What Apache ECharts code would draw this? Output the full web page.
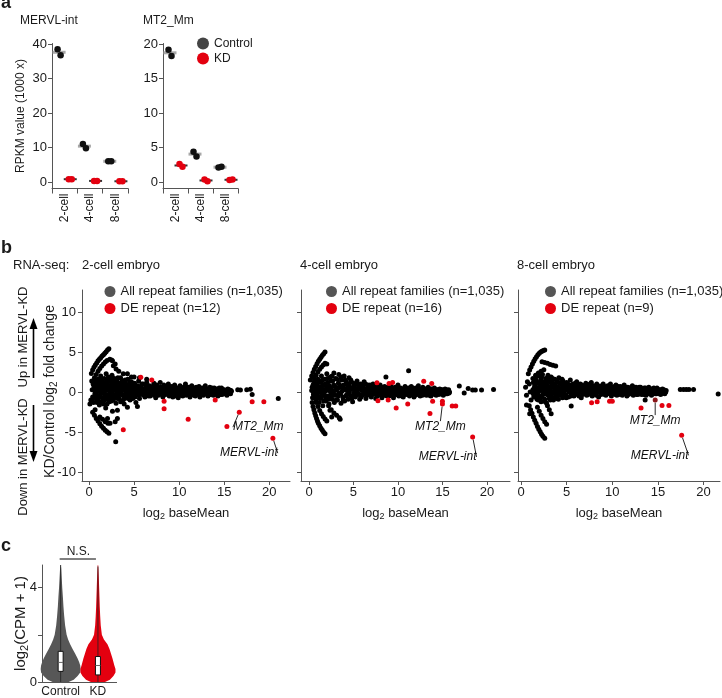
<!DOCTYPE html>
<html><head><meta charset="utf-8">
<script src="https://cdn.jsdelivr.net/npm/echarts@6/dist/echarts.min.js"></script>
<style>html,body{margin:0;padding:0;background:#fff}#c{width:722px;height:698px}</style>
</head><body><div id="c"></div>
<script>
// ================= DATA =================
// ---- panel a : RPKM (1000 x), two replicates per stage
const stageCats = ['2-cell', '4-cell', '8-cell'];
const mervlControl = [[38.5, 36.8], [11.0, 9.8], [6.0, 6.0]];
const mervlKD = [[0.8, 0.8], [0.3, 0.3], [0.2, 0.2]];
const mt2Control = [[19.2, 18.3], [4.4, 3.7], [2.1, 2.2]];
const mt2KD = [[2.6, 2.2], [0.35, 0.1], [0.3, 0.35]];
const mervlTicks = [0, 10, 20, 30, 40];
const mt2Ticks = [0, 5, 10, 15, 20];

// ---- panel b : MA plots [log2 baseMean, log2 fold change]
const maTicksX = [0, 5, 10, 15, 20];
const maTicksY = [-10, -5, 0, 5, 10];

const twoCellAll = [
[0.26,2.33],[0.4,2.75],[0.55,3.1],[0.7,3.4],[0.85,3.65],[1.0,3.9],[1.15,4.1],[1.3,4.3],[1.45,4.5],[1.6,4.65],[1.75,4.85],[1.9,5.05],[2.05,5.25],[2.2,5.4],
[0.8,2.2],[1.0,2.6],[1.2,2.95],[1.4,3.25],[1.6,3.5],[1.8,3.75],[2.0,3.95],[2.3,4.1],[2.6,3.9],[2.9,3.5],[2.5,4.0],[2.7,3.3],[3.0,2.9],[3.3,2.6],[3.8,2.3],[4.26,2.3],[4.7,1.9],[5.0,1.9],[5.6,1.8],[6.4,1.6],
[0.4,-2.5],[0.6,-2.9],[0.8,-3.3],[1.0,-3.6],[1.2,-3.95],[1.4,-4.25],[1.6,-4.5],[1.8,-4.75],[2.0,-4.95],[2.2,-5.15],
[0.2,-1.0],[0.1,-1.5],[0.85,-1.2],[0.67,-2.2],[1.2,-3.1],[1.5,-3.4],[1.8,-3.7],[2.1,-3.9],[1.85,-2.0],[2.05,-3.3],[3.15,-2.25],[3.15,-3.3],[2.9,-3.7],[2.33,-3.9],[2.96,-6.2],[4.26,-1.9],[5.2,-1.3],[5.37,-1.8],[3.9,-1.5],[2.6,-2.4],
[0.3,1.4],[0.35,0.3],[0.4,-0.6],[0.45,1.0],[0.5,-1.3],[0.55,0.7],[0.6,1.8],[0.65,-0.2],[0.7,0.4],[0.75,1.3],[0.8,-0.8],[0.85,0.9],[0.9,0.1],[0.95,-0.4],[1.0,1.6],[1.0,0.6],
[1.05,-1.1],[1.1,0.2],[1.15,1.1],[1.2,-0.5],[1.25,0.7],[1.3,2.0],[1.35,-0.1],[1.4,1.4],[1.45,0.4],[1.5,-0.8],[1.55,0.9],[1.6,-1.5],[1.65,0.1],[1.7,1.7],[1.75,0.6],[1.8,-0.3],[1.85,1.2],[1.9,2.3],[1.95,-0.9],[2.0,0.3],
[2.05,1.0],[2.1,-0.4],[2.15,1.9],[2.2,0.6],[2.25,-1.2],[2.3,0.0],[2.35,1.4],[2.4,-0.7],[2.45,0.9],[2.5,0.3],[2.55,2.1],[2.6,-0.2],[2.65,1.2],[2.7,-1.0],[2.75,0.5],[2.8,1.7],[2.85,-0.5],[2.9,0.2],[2.95,1.0],[3.0,-1.4],
[3.05,0.6],[3.1,1.5],[3.15,-0.3],[3.2,0.1],[3.3,1.1],[3.35,-0.8],[3.4,0.4],[3.5,1.8],[3.55,-0.1],[3.6,0.8],[3.7,-1.1],[3.75,0.3],[3.8,1.3],[3.9,-0.5],[3.95,0.7],
[4.05,0.0],[4.1,1.0],[4.2,-0.7],[4.25,0.5],[4.3,1.6],[4.4,-0.2],[4.5,0.9],[4.55,-1.0],[4.6,0.3],[4.7,1.3],[4.8,-0.4],[4.85,0.6],[4.95,0.0],
[5.05,1.1],[5.1,-0.6],[5.2,0.4],[5.3,-0.1],[5.4,0.8],[5.5,1.4],[5.6,-0.8],[5.7,0.2],[5.8,0.6],[5.9,-0.3],[6.0,1.0],[6.1,0.0],[6.2,-0.6],[6.3,0.5],[6.4,1.2],[6.5,-0.2],[6.6,0.3],[6.7,0.8],[6.8,-0.5],[6.9,0.1],
[7.0,0.6],[7.1,-0.2],[7.2,1.1],[7.3,0.3],[7.4,-0.7],[7.5,0.0],[7.6,0.7],[7.7,-0.4],[7.8,0.4],[7.9,1.2],[8.0,-0.1],[8.1,0.5],[8.2,-0.6],[8.3,0.9],[8.4,0.2],[8.5,-0.3],[8.6,0.6],[8.7,0.0],[8.8,1.0],[8.9,-0.5],
[9.0,0.3],[9.1,-0.1],[9.2,0.7],[9.3,-0.6],[9.4,0.2],[9.5,0.9],[9.6,-0.3],[9.7,0.5],[9.8,0.0],[9.9,-0.7],[10.0,0.4],[10.1,0.8],[10.2,-0.2],[10.3,0.2],[10.4,-0.5],[10.5,0.6],[10.6,0.0],[10.7,1.0],[10.8,-0.4],[10.9,0.3],
[11.0,-0.1],[11.1,0.6],[11.2,-0.6],[11.3,0.2],[11.4,0.8],[11.5,-0.3],[11.6,0.4],[11.7,0.0],[11.8,-0.5],[11.9,0.6],[12.0,0.2],[12.1,-0.2],[12.2,0.7],[12.3,-0.6],[12.4,0.3],[12.5,0.0],[12.6,0.5],[12.7,-0.4],[12.8,0.2],[12.9,0.8],
[13.0,-0.1],[13.1,0.4],[13.2,-0.5],[13.3,0.1],[13.4,0.6],[13.5,-0.3],[13.6,0.3],[13.7,0.0],[13.8,-0.4],[13.9,0.5],[14.0,0.1],[14.1,-0.2],[14.2,0.4],[14.3,-0.5],[14.4,0.0],[14.5,0.3],[14.6,-0.3],[14.7,0.5],[14.8,0.1],[14.9,-0.2],
[15.0,0.3],[15.1,-0.1],[15.2,0.2],[15.3,-0.4],[15.4,0.4],[15.5,0.0],[15.6,0.2],[15.7,-0.2],[15.8,0.1],
[16.5,0.3],[16.8,0.25],[17.5,0.3],[17.9,0.35],[18.1,-0.3],[21.0,-0.8],
[0.35,-1.0],[0.5,0.3],[0.55,1.4],[0.65,0.9],[0.75,-0.4],[0.8,0.2],[0.9,-1.3],[0.95,1.2],[1.1,-0.6],[1.15,-1.6],[1.25,1.7],[1.4,-1.2],[1.45,0.0],[1.6,1.2],[1.7,-1.0],[1.75,0.3],[1.85,-0.5],[2.0,-1.5],[2.0,1.3],[2.15,-0.8],[2.3,1.7],[2.35,-0.3],[2.5,-1.1],[2.6,1.6],[2.75,-0.7],[2.9,1.4],[3.05,-0.2],[3.2,1.8],[3.3,-0.4],[3.5,-1.2],[3.65,1.4],[3.85,-0.9],[4.0,1.5],[4.35,-0.8],[4.5,1.3],[4.7,-0.2],[4.85,-0.8],
[1.05,0.4],[1.2,1.5],[1.35,0.9],[1.5,0.1],[1.65,-0.6],[1.8,0.8],[1.95,0.2],[2.1,1.5],[2.25,0.4],[2.4,-0.1],[2.55,0.7],[2.7,1.0],[2.85,0.3],[3.0,0.8],[3.15,-0.8],[3.25,0.5],[3.45,0.9],[3.6,0.2],[3.75,-0.4],[3.9,1.0],[4.0,0.4],[4.15,-0.2],[4.3,0.7],[4.45,0.2],[4.6,-0.6],[4.75,0.6],[4.9,1.0],
[5.0,0.2],[5.15,0.6],[5.25,-0.3],[5.35,0.3],[5.5,-0.4],[5.6,0.6],[5.75,-0.2],[5.85,1.0],[6.0,0.4],[6.1,-0.4],[6.25,0.2],[6.35,0.8],[6.5,0.5],[6.6,-0.5],[6.75,0.2],[6.85,0.5],[6.95,-0.2],
[7.05,0.3],[7.15,0.8],[7.25,-0.4],[7.4,0.4],[7.5,0.9],[7.6,-0.2],[7.7,0.3],[7.85,-0.1],[7.95,0.6],[8.05,0.2],[8.15,-0.4],[8.25,0.3],[8.35,-0.2],[8.5,0.4],[8.6,-0.1],[8.75,0.5],[8.85,0.2],[8.95,0.7],
[9.05,-0.3],[9.15,0.4],[9.25,0.1],[9.35,-0.2],[9.45,0.6],[9.55,0.2],[9.65,-0.5],[9.75,0.2],[9.85,0.5],[9.95,-0.2],[10.05,0.1],[10.15,-0.4],[10.25,0.5],[10.35,-0.1],[10.45,0.3],[10.55,-0.2],[10.65,0.4],[10.75,0.1],[10.85,-0.1],[10.95,0.6],
[11.05,0.3],[11.15,-0.3],[11.25,0.1],[11.35,0.5],[11.45,-0.1],[11.55,0.2],[11.65,-0.4],[11.75,0.5],[11.85,0.1],[11.95,-0.3],[12.05,0.4],[12.15,0.1],[12.25,-0.3],[12.35,0.5],[12.45,-0.2],[12.55,0.2],[12.65,0.0],[12.75,0.4],[12.85,-0.2],[12.95,0.3],
[13.05,0.2],[13.15,-0.2],[13.25,0.4],[13.35,-0.3],[13.45,0.2],[13.55,0.0],[13.65,0.5],[13.75,-0.2],[13.85,0.1],[13.95,-0.3],[14.05,0.3],[14.15,0.0],[14.25,-0.2],[14.35,0.2],[14.45,0.5],[14.55,-0.1],[14.65,0.1],[14.75,-0.3],[14.85,0.3],[14.95,0.0],
[15.05,-0.2],[15.15,0.2],[15.25,0.0],[15.35,0.2],[15.45,-0.2],[15.55,0.3],[15.65,0.0],[15.75,0.2]
];
const twoCellDE = [[5.74,1.84],[6.96,1.5],[8.33,-1.13],[8.33,-2.08],[11.0,-3.4],[14.0,-1.0],[18.1,-1.2],[19.4,-1.2],[15.3,-4.3],[3.8,-4.7]];
const twoCellNamed = [['MT2_Mm', 16.67, -2.5], ['MERVL-int', 20.4, -5.75]];

const fourCellAll = [
[0.15,1.5],[0.3,2.0],[0.45,2.45],[0.6,2.85],[0.75,3.2],[0.9,3.55],[1.05,3.85],[1.2,4.1],[1.35,4.35],[1.5,4.6],[1.65,4.8],[1.8,5.0],
[0.6,1.7],[0.8,2.1],[1.0,2.5],[1.2,2.85],[1.4,3.15],[1.6,3.4],[1.8,3.6],[2.0,3.5],
[0.35,-1.3],[0.45,-1.8],[0.55,-2.2],[0.65,-2.6],[0.75,-2.95],[0.85,-3.3],[0.95,-3.6],[1.05,-3.9],[1.2,-4.2],[1.35,-4.5],[1.5,-4.75],[1.65,-5.0],[1.8,-5.2],
[0.8,-1.3],[1.0,-1.8],[1.2,-2.3],[1.4,-2.7],[1.6,-3.05],[1.8,-3.35],[2.0,-3.6],
[2.2,-1.7],[2.5,-2.2],[2.8,-2.6],[3.1,-2.9],[3.4,-3.2],[2.55,-3.1],[3.5,-3.4],[2.36,-2.25],
[0.3,0.2],[0.4,-0.7],[0.45,0.9],[0.5,0.0],[0.6,1.3],[0.65,-0.4],[0.7,0.5],[0.8,-0.9],[0.85,1.0],[0.9,0.1],[1.0,-0.5],[1.0,1.6],
[1.1,0.6],[1.15,-1.3],[1.2,0.0],[1.3,1.2],[1.35,-0.7],[1.4,2.0],[1.5,0.4],[1.55,-1.7],[1.6,0.9],[1.7,-0.3],[1.75,1.6],[1.8,0.1],[1.9,-1.1],[1.95,0.7],[2.0,2.3],
[2.05,-0.5],[2.1,1.2],[2.2,0.2],[2.25,-1.5],[2.3,0.8],[2.4,1.9],[2.45,-0.2],[2.5,0.5],[2.6,-0.9],[2.65,1.4],[2.7,0.0],[2.8,2.4],[2.85,-1.3],[2.9,0.7],[3.0,-0.4],[3.0,1.7],
[3.1,0.3],[3.2,-1.0],[3.3,1.1],[3.35,2.2],[3.4,-0.1],[3.5,0.6],[3.6,-1.4],[3.65,1.5],[3.7,0.1],[3.8,-0.6],[3.9,0.9],[3.95,2.0],[4.0,-1.1],[4.1,0.4],[4.2,1.3],[4.25,-0.3],[4.35,0.8],[4.4,-0.9],[4.5,1.8],[4.55,0.0],[4.65,0.6],[4.75,-0.5],[4.85,1.2],[4.9,-1.2],
[5.0,0.3],[5.1,0.9],[5.2,-0.6],[5.3,0.1],[5.4,1.4],[5.5,-0.2],[5.6,0.6],[5.7,-0.9],[5.8,1.0],[5.9,0.2],[6.0,-0.4],[6.1,0.7],[6.2,1.3],[6.3,-0.1],[6.4,-0.8],[6.5,0.4],[6.6,0.9],[6.7,-0.3],[6.8,0.1],[6.9,0.6],
[7.0,-0.6],[7.1,0.3],[7.2,1.0],[7.3,-0.2],[7.4,0.5],[7.5,-0.8],[7.6,0.0],[7.7,0.7],[7.8,-0.4],[7.9,0.3],[8.0,0.9],[8.1,-0.1],[8.2,-0.7],[8.3,0.4],[8.4,0.0],[8.5,0.7],[8.6,-0.4],[8.7,0.2],[8.8,-0.1],[8.9,0.6],
[9.0,-0.5],[9.1,0.1],[9.2,0.8],[9.3,-0.2],[9.4,0.4],[9.5,-0.7],[9.6,0.0],[9.7,0.6],[9.8,-0.3],[9.9,0.2],[10.0,0.9],[10.1,-0.5],[10.2,0.1],[10.3,0.5],[10.4,-0.2],[10.5,0.3],[10.6,-0.6],[10.7,0.0],[10.8,0.7],[10.9,-0.3],
[11.0,0.2],[11.1,-0.1],[11.2,0.5],[11.3,-0.5],[11.4,0.1],[11.5,0.7],[11.6,-0.2],[11.7,0.3],[11.8,-0.6],[11.9,0.0],[12.0,0.5],[12.1,-0.3],[12.2,0.2],[12.3,0.8],[12.4,-0.1],[12.5,-0.5],[12.6,0.3],[12.7,0.0],[12.8,0.6],[12.9,-0.3],
[13.0,0.1],[13.1,0.4],[13.2,-0.4],[13.3,0.0],[13.4,0.6],[13.5,-0.2],[13.6,0.2],[13.7,-0.5],[13.8,0.4],[13.9,0.0],[14.0,-0.2],[14.1,0.5],[14.2,0.1],[14.3,-0.4],[14.4,0.3],[14.5,0.0],[14.6,-0.3],[14.7,0.4],[14.8,0.1],[14.9,-0.2],
[15.0,0.3],[15.1,-0.4],[15.2,0.0],[15.3,0.4],[15.4,-0.2],[15.5,0.2],[15.6,-0.1],[15.7,0.3],[15.8,0.0],
[11.2,2.67],[8.65,1.9],[16.9,0.75],[17.45,-0.1],[17.9,0.45],[18.4,0.25],[18.7,0.25],[19.4,0.25],[20.75,0.33],
[0.35,0.6],[0.5,-0.3],[0.55,1.1],[0.7,-0.8],[0.75,0.9],[0.9,-0.4],[0.95,0.4],[1.05,1.2],[1.15,0.3],[1.25,-0.8],[1.3,0.6],[1.45,-0.3],[1.5,1.5],[1.6,0.1],[1.65,-1.1],[1.8,1.0],[1.85,-0.6],[1.95,0.4],[2.05,1.7],[2.15,-0.9],[2.25,0.6],[2.35,-0.5],[2.45,1.4],[2.55,0.1],[2.6,2.0],[2.75,-0.4],[2.8,0.9],[2.95,0.2],[3.05,-1.0],[3.15,1.6],[3.25,0.5],[3.3,-0.5],[3.45,0.9],[3.55,-0.2],[3.6,1.9],[3.75,0.6],[3.85,-1.0],[3.95,0.3],[4.05,1.5],[4.15,-0.5],[4.3,0.2],[4.45,1.0],[4.5,-0.3],[4.6,0.4],[4.7,1.5],[4.8,-0.8],[4.95,0.5],
[5.05,-0.2],[5.15,0.5],[5.25,1.1],[5.35,-0.4],[5.45,0.3],[5.55,0.9],[5.65,-0.3],[5.75,0.4],[5.85,-0.6],[5.95,0.6],[6.05,0.2],[6.15,-0.3],[6.25,0.4],[6.35,1.0],[6.45,0.1],[6.55,-0.4],[6.65,0.5],[6.75,-0.1],[6.85,0.9],[6.95,0.2],
[7.05,0.5],[7.15,-0.3],[7.25,0.2],[7.35,0.7],[7.45,-0.2],[7.55,0.4],[7.65,-0.5],[7.75,0.2],[7.85,0.6],[7.95,-0.3],[8.05,0.2],[8.15,0.6],[8.25,0.0],[8.35,-0.4],[8.45,0.4],[8.55,-0.1],[8.65,0.5],[8.75,-0.5],[8.85,0.2],[8.95,0.0],
[9.05,0.4],[9.15,-0.3],[9.25,0.3],[9.35,0.0],[9.45,-0.4],[9.55,0.5],[9.65,-0.2],[9.75,0.2],[9.85,0.5],[9.95,-0.3],[10.05,0.2],[10.15,0.5],[10.25,-0.3],[10.35,0.1],[10.45,-0.5],[10.55,0.4],[10.65,0.2],[10.75,-0.2],[10.85,0.3],[10.95,-0.1],
[11.05,0.4],[11.15,-0.3],[11.25,0.1],[11.35,0.3],[11.45,-0.3],[11.55,0.2],[11.65,0.5],[11.75,-0.1],[11.85,0.2],[11.95,-0.4],[12.05,0.1],[12.15,0.4],[12.25,-0.2],[12.35,0.2],[12.45,0.4],[12.55,-0.2],[12.65,0.1],[12.75,-0.4],[12.85,0.2],[12.95,0.0],
[13.05,-0.2],[13.15,0.2],[13.25,0.4],[13.35,-0.2],[13.45,0.1],[13.55,-0.4],[13.65,0.4],[13.75,0.1],[13.85,-0.2],[13.95,0.3],[14.05,0.1],[14.15,-0.3],[14.25,0.3],[14.35,0.0],[14.45,-0.2],[14.55,0.3],[14.65,0.0],[14.75,-0.2],[14.85,0.3],[14.95,0.1],
[15.05,-0.2],[15.15,0.2],[15.25,-0.1],[15.35,0.1],[15.45,0.3],[15.55,-0.2],[15.65,0.1],[15.75,-0.1]
];
const fourCellDE = [[7.64,1.17],[9.0,1.08],[9.4,1.2],[12.9,1.37],[13.8,1.08],[7.75,-1.08],[8.9,-1.0],[9.8,-2.0],[11.1,-1.5],[13.6,-2.67],[13.9,-1.13],[15.0,-1.13],[16.1,-1.75],[16.5,-1.75]];
const fourCellNamed = [['MT2_Mm', 15.0, -1.5], ['MERVL-int', 18.4, -5.6]];

const eightCellAll = [
[0.8,2.3],[0.95,2.75],[1.1,3.15],[1.25,3.5],[1.4,3.85],[1.55,4.15],[1.7,4.4],[1.85,4.65],[2.0,4.85],[2.15,5.0],[2.3,5.1],[2.45,5.2],[2.6,5.25],
[2.3,3.8],[2.6,3.7],[2.9,3.6],[3.2,3.45],[3.5,3.35],[3.8,3.25],
[1.3,1.7],[1.6,2.1],[1.9,2.4],[2.2,2.6],[2.5,2.8],
[0.9,-1.7],[1.05,-2.2],[1.2,-2.65],[1.35,-3.1],[1.5,-3.5],[1.65,-3.9],[1.8,-4.3],[1.95,-4.65],[2.1,-4.95],[2.25,-5.25],[2.4,-5.5],[2.6,-5.75],
[1.8,-1.9],[2.0,-2.4],[2.2,-2.9],[2.4,-3.3],[2.6,-3.7],[2.8,-4.0],
[2.9,-1.7],[3.1,-2.2],[3.3,-2.7],
[0.5,0.6],[0.6,-0.4],[0.7,1.3],[0.6,-1.6],[0.95,-2.7],[1.0,0.0],[1.1,-1.0],[0.9,1.0],
[1.3,0.3],[1.35,1.2],[1.4,-0.6],[1.5,0.8],[1.55,-0.1],[1.6,1.6],[1.7,0.4],[1.75,-0.9],[1.8,1.1],[1.9,0.0],[1.95,2.0],
[2.0,-0.5],[2.1,0.7],[2.15,1.5],[2.2,-1.2],[2.3,0.2],[2.35,2.2],[2.4,-0.3],[2.5,1.0],[2.55,0.5],[2.6,-0.9],[2.7,1.7],[2.75,0.0],[2.8,-1.4],[2.9,0.8],[2.95,2.1],[3.0,-0.4],[3.1,1.3],[3.15,0.3],[3.2,-1.0],[3.3,1.9],[3.35,0.6],[3.4,-0.2],
[3.5,1.1],[3.6,-0.7],[3.65,0.2],[3.7,1.6],[3.8,0.7],[3.85,-0.4],[3.9,1.2],[4.0,0.0],[4.1,-0.9],[4.15,1.8],[4.2,0.5],[4.3,-0.2],[4.4,1.0],[4.5,0.3],[4.55,-0.7],[4.6,1.4],[4.7,0.0],[4.8,0.8],[4.9,-0.4],
[5.0,1.2],[5.1,0.2],[5.2,-0.6],[5.3,0.7],[5.4,1.5],[5.5,-0.2],[5.6,0.4],[5.7,1.0],[5.8,-0.5],[5.9,0.1],[6.0,0.8],[6.1,1.3],[6.2,-0.3],[6.3,0.5],[6.4,0.0],[6.5,1.0],[6.6,-0.7],[6.7,0.3],[6.8,0.8],[6.9,-0.1],
[7.0,0.5],[7.1,1.1],[7.2,-0.4],[7.3,0.2],[7.4,0.8],[7.5,-0.1],[7.6,0.5],[7.7,1.2],[7.8,-0.5],[7.9,0.1],[8.0,0.7],[8.1,0.3],[8.2,-0.2],[8.3,1.0],[8.4,0.4],[8.5,-0.6],[8.6,0.1],[8.7,0.7],[8.8,-0.2],[8.9,0.4],
[9.0,1.0],[9.1,0.0],[9.2,0.5],[9.3,-0.4],[9.4,0.2],[9.5,0.8],[9.6,-0.1],[9.7,0.4],[9.8,1.0],[9.9,-0.5],[10.0,0.2],[10.1,0.6],[10.2,-0.2],[10.3,0.3],[10.4,0.9],[10.5,-0.4],[10.6,0.1],[10.7,0.5],[10.8,-0.1],[10.9,0.7],
[11.0,0.2],[11.1,-0.4],[11.2,0.4],[11.3,0.9],[11.4,-0.1],[11.5,0.3],[11.6,-0.5],[11.7,0.6],[11.8,0.1],[11.9,-0.2],[12.0,0.5],[12.1,0.0],[12.2,0.8],[12.3,-0.4],[12.4,0.3],[12.5,-0.1],[12.6,0.6],[12.7,0.1],[12.8,-0.3],[12.9,0.4],
[13.0,0.0],[13.1,0.6],[13.2,-0.3],[13.3,0.2],[13.4,-0.1],[13.5,0.5],[13.6,0.1],[13.7,-0.4],[13.8,0.3],[13.9,0.0],[14.0,0.6],[14.1,-0.2],[14.2,0.2],[14.3,-0.4],[14.4,0.4],[14.5,0.0],[14.6,0.3],[14.7,-0.2],[14.8,0.1],[14.9,0.5],
[15.0,-0.1],[15.1,0.3],[15.2,0.0],[15.3,-0.3],[15.4,0.2],[15.5,0.4],[15.6,-0.1],[15.7,0.1],[15.8,0.0],[15.9,0.2],
[13.6,-1.0],[5.5,-1.75],[17.45,0.33],[17.8,0.33],[18.1,0.33],[18.4,0.33],[18.9,0.33],[21.6,-0.25],
[1.35,-0.2],[1.45,0.5],[1.5,1.4],[1.6,-0.5],[1.65,0.6],[1.7,1.3],[1.8,-0.2],[1.85,0.5],[1.9,-1.0],[2.0,1.2],[2.05,0.2],[2.1,-0.9],[2.2,0.9],[2.25,1.9],[2.3,-0.6],[2.4,0.5],[2.45,1.3],[2.5,-0.1],[2.6,0.7],[2.65,-1.2],[2.7,0.3],[2.8,1.3],[2.85,-0.3],[2.9,0.5],[3.0,1.6],[3.05,0.0],[3.1,-0.8],[3.2,0.7],[3.25,1.4],[3.3,-0.5],[3.4,0.9],[3.45,1.7],[3.5,0.0],[3.55,-1.0],[3.6,0.6],[3.7,0.0],[3.75,1.0],[3.85,0.2],[3.9,-0.8],[4.0,1.4],[4.05,0.6],[4.2,-0.4],[4.25,1.1],[4.35,0.3],[4.45,-0.3],[4.5,1.6],[4.6,0.6],[4.65,-0.2],[4.75,1.1],[4.85,0.3],[4.95,-0.7],
[5.05,0.5],[5.15,1.0],[5.25,0.0],[5.35,0.4],[5.45,-0.5],[5.55,0.9],[5.65,0.2],[5.75,-0.3],[5.85,0.6],[5.95,1.1],[6.05,-0.2],[6.15,0.4],[6.25,0.9],[6.35,-0.5],[6.45,0.6],[6.55,0.2],[6.65,0.9],[6.75,-0.3],[6.85,0.4],[6.95,0.0],
[7.05,-0.2],[7.15,0.4],[7.25,0.8],[7.35,-0.3],[7.45,0.3],[7.55,1.0],[7.65,0.0],[7.75,0.5],[7.85,-0.2],[7.95,0.8],[8.05,0.0],[8.15,0.5],[8.25,-0.4],[8.35,0.3],[8.45,0.8],[8.55,0.0],[8.65,0.4],[8.75,-0.3],[8.85,0.8],[8.95,0.1],
[9.05,0.5],[9.15,-0.3],[9.25,0.2],[9.35,0.7],[9.45,-0.2],[9.55,0.3],[9.65,0.6],[9.75,-0.2],[9.85,0.3],[9.95,0.6],[10.05,-0.1],[10.15,0.3],[10.25,0.7],[10.35,-0.3],[10.45,0.4],[10.55,0.0],[10.65,0.7],[10.75,-0.3],[10.85,0.3],[10.95,0.0],
[11.05,0.5],[11.15,0.1],[11.25,-0.2],[11.35,0.4],[11.45,0.6],[11.55,-0.1],[11.65,0.2],[11.75,-0.3],[11.85,0.5],[11.95,0.2],[12.05,-0.2],[12.15,0.5],[12.25,0.1],[12.35,0.6],[12.45,-0.2],[12.55,0.2],[12.65,-0.3],[12.75,0.4],[12.85,0.1],[12.95,0.6],
[13.05,0.3],[13.15,-0.1],[13.25,0.4],[13.35,0.0],[13.45,-0.3],[13.55,0.3],[13.65,0.5],[13.75,0.0],[13.85,-0.2],[13.95,0.4],[14.05,0.2],[14.15,-0.2],[14.25,0.4],[14.35,0.1],[14.45,-0.2],[14.55,0.5],[14.65,0.0],[14.75,0.2],[14.85,-0.2],[14.95,0.3],
[15.05,0.1],[15.15,-0.2],[15.25,0.3],[15.35,0.0],[15.45,-0.1],[15.55,0.2],[15.65,0.3],[15.75,-0.2],[15.85,0.0]
];
const eightCellDE = [[7.73,-1.33],[8.34,-1.2],[9.7,-1.13],[10.0,-1.13],[13.15,-2.0],[15.45,-1.67],[16.2,-1.67]];
const eightCellNamed = [['MT2_Mm', 14.7, -1.0], ['MERVL-int', 17.6, -5.4]];

// ---- panel c : violin of log2(CPM + 1)
const violinGroups = ['Control', 'KD'];
const violinLevels = [0, 0.1, 0.25, 0.4, 0.55, 0.7, 0.85, 1.0, 1.2, 1.4, 1.6, 1.8, 2.0, 2.4, 2.8, 3.2, 3.6, 4.0, 4.4, 4.8, 4.96];
const controlDensity = [0.43, 0.70, 0.91, 1.05, 1.07, 1.05, 0.99, 0.91, 0.78, 0.64, 0.51, 0.40, 0.32, 0.24, 0.19, 0.15, 0.12, 0.086, 0.059, 0.032, 0.011];
const kdDensity = [0.38, 0.64, 0.83, 0.94, 0.94, 0.88, 0.83, 0.78, 0.70, 0.62, 0.51, 0.32, 0.21, 0.15, 0.12, 0.097, 0.08, 0.064, 0.048, 0.027, 0.011];
const boxStats = [[0, 0.45, 0.83, 1.3, 4.96], [0, 0.3, 0.7, 1.08, 4.9]];
const violinTicks = [0, 2, 4];
const violinLabels = [0, 4];

// ================= CHART =================
const FONT = '"Liberation Sans", Arial, sans-serif';
const RED = '#e3000f';
const INK = '#1a1a1a';
const AXIS = '#555';
const chart = echarts.init(document.getElementById('c'));

const subRich = (size) => ({
  a: { fontSize: size, fontFamily: FONT, color: INK, lineHeight: size + 3 },
  s: { fontSize: size - 4, fontFamily: FONT, color: INK, lineHeight: size - 3, verticalAlign: 'bottom' }
});

const grids = [
  { left: 52, top: 43.5, width: 76, height: 145 },
  { left: 163, top: 43.5, width: 75, height: 145 },
  { left: 82, top: 290, width: 208, height: 191 },
  { left: 301, top: 290, width: 209, height: 191 },
  { left: 518, top: 290, width: 202, height: 191 },
  { left: 42, top: 565, width: 74.6, height: 119 }
];

function axisBase(gi) {
  return {
    gridIndex: gi, splitLine: { show: false },
    axisLine: { show: true, onZero: false, lineStyle: { color: AXIS, width: 1 } },
    axisTick: { show: true, length: 4, lineStyle: { color: AXIS } },
    axisLabel: { color: INK, fontFamily: FONT, fontSize: 13 }
  };
}

// panel a helpers
const repOffset = [-0.06, 0.06];
function dots(reps, shift) {
  const out = [];
  reps.forEach((r, i) => r.forEach((v, k) => out.push([i + 0.5 + shift + repOffset[k], v])));
  return out;
}
function means(reps, shift) {
  return reps.map((r, i) => [i + 0.5 + shift, r.reduce((a, b) => a + b, 0) / r.length]);
}
function panelASeries(gi, ctrl, kd) {
  return [
    { type: 'scatter', name: 'Control', xAxisIndex: gi, yAxisIndex: gi, symbol: 'rect', symbolSize: [13, 3], itemStyle: { color: '#a8a8a8', opacity: 1 }, data: means(ctrl, -0.22), z: 2, silent: true },
    { type: 'scatter', name: 'KD', xAxisIndex: gi, yAxisIndex: gi, symbol: 'rect', symbolSize: [13, 2], itemStyle: { color: '#333', opacity: 1 }, data: means(kd, 0.22), z: 2, silent: true },
    { type: 'scatter', name: 'Control', xAxisIndex: gi, yAxisIndex: gi, symbolSize: 6.5, itemStyle: { color: '#111', opacity: 1 }, data: dots(ctrl, -0.22), z: 3 },
    { type: 'scatter', name: 'KD', xAxisIndex: gi, yAxisIndex: gi, symbolSize: 6.5, itemStyle: { color: RED, opacity: 1 }, data: dots(kd, 0.22), z: 3 }
  ];
}

// panel b helpers
const ALLNAME = 'All repeat families (n=1,035)';
function panelBSeries(gi, all, de, named, deName, shifts, darkFirst) {
  return [
    { type: 'scatter', name: ALLNAME, xAxisIndex: gi, yAxisIndex: gi, symbolSize: 5, itemStyle: { color: '#000', opacity: 1 }, data: all, z: 2 },
    { type: 'scatter', name: deName, xAxisIndex: gi, yAxisIndex: gi, symbolSize: 5, itemStyle: { color: RED, opacity: 1 }, data: de, z: 3 },
    {
      type: 'scatter', name: deName, xAxisIndex: gi, yAxisIndex: gi, symbolSize: 5, z: 4,
      data: named.map((d, i) => ({ name: d[0], value: [d[1], d[2]], itemStyle: { color: (darkFirst && i === 0) ? '#8a1518' : RED, opacity: 1 } })),
      label: { show: true, position: 'inside', formatter: '{b}', color: '#111', fontFamily: FONT, fontSize: 12, fontStyle: 'italic' },
      labelLayout: (p) => ({ dx: shifts[p.dataIndex][0], dy: shifts[p.dataIndex][1] }),
      labelLine: { show: true, lineStyle: { color: '#111', width: 0.9, opacity: 1 } }
    }
  ];
}

const xAxes = [];
const yAxes = [];
[[0, mervlTicks, -1.9, 40.2], [1, mt2Ticks, -0.94, 20.1]].forEach(([gi, ticks, mn, mx]) => {
  const xa = axisBase(gi);
  Object.assign(xa, { type: 'value', min: 0, max: 3 });
  xa.axisTick = { show: true, length: 5, customValues: [0, 1, 2, 3], lineStyle: { color: AXIS } };
  xa.axisLabel = { color: INK, fontFamily: FONT, fontSize: 12, rotate: 90, margin: 5, customValues: [0.5, 1.5, 2.5], formatter: (v) => stageCats[Math.floor(v)] };
  xAxes.push(xa);
  const ya = axisBase(gi);
  Object.assign(ya, { type: 'value', min: mn, max: mx });
  ya.axisTick = { show: true, length: 4, customValues: ticks, lineStyle: { color: AXIS } };
  ya.axisLabel = { color: INK, fontFamily: FONT, fontSize: 13, margin: 5, customValues: ticks };
  if (gi === 0) Object.assign(ya, { name: 'RPKM value (1000 x)', nameLocation: 'middle', nameGap: 25, nameTextStyle: { fontFamily: FONT, fontSize: 12, color: INK } });
  yAxes.push(ya);
});
[[2, -0.78, 22.3], [3, -0.9, 22.6], [4, -0.33, 21.8]].forEach(([gi, mn, mx]) => {
  const xa = axisBase(gi);
  Object.assign(xa, { type: 'value', min: mn, max: mx, name: '{a|log}{s|2}{a| baseMean}', nameLocation: 'middle', nameGap: 24, nameTextStyle: { rich: subRich(13) } });
  xa.axisTick = { show: true, length: 4, customValues: maTicksX, lineStyle: { color: AXIS } };
  xa.axisLabel = { color: INK, fontFamily: FONT, fontSize: 13, margin: 5, customValues: maTicksX };
  xAxes.push(xa);
  const ya = axisBase(gi);
  Object.assign(ya, { type: 'value', min: -11.1, max: 12.75 });
  ya.axisTick = { show: true, length: 4, customValues: maTicksY, lineStyle: { color: AXIS } };
  ya.axisLabel = { show: gi === 2, color: INK, fontFamily: FONT, fontSize: 13, margin: 6, customValues: maTicksY };
  if (gi === 2) Object.assign(ya, { name: 'KD/Control {a|log}{s|2}{a| fold change}', nameLocation: 'middle', nameGap: 23, nameMoveOverlap: false, nameTextStyle: { fontFamily: FONT, fontSize: 14, color: INK, rich: subRich(14), padding: [0, 0, 0, -12] } });
  yAxes.push(ya);
});
{
  const xa = axisBase(5);
  Object.assign(xa, { type: 'category', data: violinGroups, boundaryGap: true });
  xa.axisTick = { show: false };
  xa.axisLabel = { color: INK, fontFamily: FONT, fontSize: 12, margin: 4, interval: 0 };
  xAxes.push(xa);
  const ya = axisBase(5);
  Object.assign(ya, { type: 'value', min: 0, max: 4.96, name: '{a|log}{s|2}{a|(CPM + 1)}', nameLocation: 'middle', nameGap: 12, nameMoveOverlap: false, nameTextStyle: { rich: subRich(15) } });
  ya.axisTick = { show: true, length: 4, customValues: violinTicks, lineStyle: { color: AXIS } };
  ya.axisLabel = { color: INK, fontFamily: FONT, fontSize: 13, margin: 5, customValues: violinLabels };
  yAxes.push(ya);
}

const violinDensities = [controlDensity, kdDensity];
const violinColors = ['#575757', RED];

const series = [
  ...panelASeries(0, mervlControl, mervlKD),
  ...panelASeries(1, mt2Control, mt2KD),
  ...panelBSeries(2, twoCellAll, twoCellDE, twoCellNamed, 'DE repeat (n=12)', [[19, 15], [-24, 15]], false),
  ...panelBSeries(3, fourCellAll, fourCellDE, fourCellNamed, 'DE repeat (n=16)', [[-2, 23], [-25, 20]], false),
  ...panelBSeries(4, eightCellAll, eightCellDE, eightCellNamed, 'DE repeat (n=9)', [[0, 21], [-22, 20]], true),
  {
    type: 'custom', name: 'violin', xAxisIndex: 5, yAxisIndex: 5, silent: true,
    data: violinGroups.map((g, i) => [i, 0]),
    renderItem: (params, api) => {
      const ci = api.value(0);
      const dens = violinDensities[ci];
      const cx = api.coord([ci, 0])[0];
      const half = api.size([1, 0])[0] / 2;
      const right = [], left = [];
      violinLevels.forEach((lv, k) => {
        const y = api.coord([ci, lv])[1];
        right.push([cx + dens[k] * half, y]);
        left.push([cx - dens[k] * half, y]);
      });
      return { type: 'polygon', shape: { points: right.concat(left.reverse()) }, style: { fill: violinColors[ci] } };
    },
    z: 2
  },
  {
    type: 'custom', name: 'box', xAxisIndex: 5, yAxisIndex: 5, silent: true,
    data: boxStats.map((s, i) => [i, ...s]),
    encode: { x: 0, y: [1, 2, 3, 4, 5] },
    renderItem: (params, api) => {
      const ci = api.value(0);
      const cx = api.coord([ci, 0])[0];
      const py = (d) => api.coord([ci, api.value(d)])[1];
      const w = 5;
      return {
        type: 'group', children: [
          { type: 'line', shape: { x1: cx, y1: py(1), x2: cx, y2: py(5) }, style: { stroke: '#222', lineWidth: 0.8 } },
          { type: 'rect', shape: { x: cx - w / 2, y: py(4), width: w, height: py(2) - py(4) }, style: { fill: '#fff', stroke: '#111', lineWidth: 1 } },
          { type: 'line', shape: { x1: cx - w / 2, y1: py(3), x2: cx + w / 2, y2: py(3) }, style: { stroke: '#666', lineWidth: 1 } }
        ]
      };
    },
    z: 3
  }
];

const legendBase = {
  orient: 'vertical', padding: 0, icon: 'circle', selectedMode: false,
  textStyle: { fontFamily: FONT, fontSize: 13, color: INK }
};
const legends = [
  Object.assign({}, legendBase, { left: 197, top: 37.5, itemWidth: 12, itemHeight: 12, itemGap: 3, textStyle: { fontFamily: FONT, fontSize: 12, color: INK },
    data: [{ name: 'Control', itemStyle: { color: '#444' } }, { name: 'KD', itemStyle: { color: RED } }] }),
  Object.assign({}, legendBase, { left: 104.5, top: 285, itemWidth: 11, itemHeight: 11, itemGap: 4,
    data: [{ name: ALLNAME, itemStyle: { color: '#555' } }, { name: 'DE repeat (n=12)', itemStyle: { color: RED } }] }),
  Object.assign({}, legendBase, { left: 326, top: 285, itemWidth: 11, itemHeight: 11, itemGap: 4,
    data: [{ name: ALLNAME, itemStyle: { color: '#555' } }, { name: 'DE repeat (n=16)', itemStyle: { color: RED } }] }),
  Object.assign({}, legendBase, { left: 545, top: 285, itemWidth: 11, itemHeight: 11, itemGap: 4,
    data: [{ name: ALLNAME, itemStyle: { color: '#555' } }, { name: 'DE repeat (n=9)', itemStyle: { color: RED } }] })
];

function txt(x, y, text, size, extra) {
  return { type: 'text', x: x, y: y, style: Object.assign({ text: text, fill: INK, font: size + 'px ' + FONT, verticalAlign: 'middle', align: 'left' }, extra || {}) };
}
const graphics = [
  txt(1, 3, 'a', 18, { font: 'bold 18px ' + FONT }),
  txt(1, 248.5, 'b', 18, { font: 'bold 18px ' + FONT }),
  txt(1, 546.5, 'c', 18, { font: 'bold 18px ' + FONT }),
  txt(20, 21, 'MERVL-int', 12),
  txt(143, 21, 'MT2_Mm', 12),
  txt(13, 265, 'RNA-seq:', 13),
  txt(82, 265, '2-cell embryo', 13),
  txt(300, 265, '4-cell embryo', 13),
  txt(517, 265, '8-cell embryo', 13),
  { type: 'text', x: 23, y: 337, rotation: Math.PI / 2, style: { text: 'Up in MERVL-KD', fill: INK, font: '13px ' + FONT, align: 'center', verticalAlign: 'middle' } },
  { type: 'text', x: 23, y: 457, rotation: Math.PI / 2, style: { text: 'Down in MERVL-KD', fill: INK, font: '13px ' + FONT, align: 'center', verticalAlign: 'middle' } },
  { type: 'line', shape: { x1: 33.5, y1: 378, x2: 33.5, y2: 327 }, style: { stroke: '#000', lineWidth: 1.6 } },
  { type: 'polygon', shape: { points: [[33.5, 318], [29.5, 329], [37.5, 329]] }, style: { fill: '#000' } },
  { type: 'line', shape: { x1: 33.5, y1: 405, x2: 33.5, y2: 453 }, style: { stroke: '#000', lineWidth: 1.6 } },
  { type: 'polygon', shape: { points: [[33.5, 462], [29.5, 451], [37.5, 451]] }, style: { fill: '#000' } }
];

chart.setOption({
  animation: false,
  textStyle: { fontFamily: FONT },
  grid: grids,
  xAxis: xAxes,
  yAxis: yAxes,
  legend: legends,
  series: series,
  graphic: graphics
});

// N.S. bracket above the violins, positioned from the axis scales
const pL = chart.convertToPixel({ gridIndex: 5 }, [0, 4.96]);
const pR = chart.convertToPixel({ gridIndex: 5 }, [1, 4.96]);
const yBar = pL[1] - 6;
chart.setOption({
  graphic: graphics.concat([
    { type: 'line', shape: { x1: pL[0] - 1, y1: yBar, x2: pR[0] - 2, y2: yBar }, style: { stroke: '#000', lineWidth: 1 } },
    { type: 'text', x: (pL[0] + pR[0]) / 2 - 1, y: yBar - 7, style: { text: 'N.S.', fill: INK, font: '12px ' + FONT, align: 'center', verticalAlign: 'middle' } }
  ])
});
</script>
</body></html>
